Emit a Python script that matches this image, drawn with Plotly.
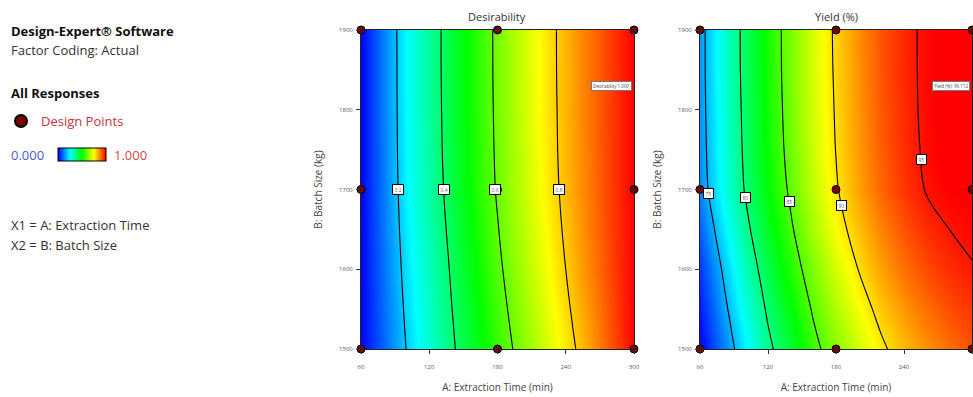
import numpy as np
import plotly.graph_objects as go

# ---- desirability grid ----
des_time = [60, 100, 140, 180, 220, 260, 300]            # A: Extraction Time (min)
des_batch = [1500, 1600, 1700, 1800, 1900]               # B: Batch Size (kg)
desirability = [
    [0.000, 0.202, 0.388, 0.551, 0.697, 0.840, 1.000],
    [0.000, 0.226, 0.411, 0.583, 0.731, 0.869, 1.000],
    [0.000, 0.245, 0.435, 0.608, 0.755, 0.882, 1.000],
    [0.000, 0.252, 0.444, 0.616, 0.762, 0.885, 1.000],
    [0.000, 0.254, 0.446, 0.618, 0.764, 0.886, 1.000],
]

# ---- yield (%) grid ----
yield_time = [60, 80, 100, 120, 140, 160, 180, 200, 220, 240, 260, 280, 300]
yield_batch = [1500, 1550, 1600, 1650, 1700, 1750, 1800, 1850, 1900]
yield_pct = [
    [70.39, 73.46, 76.38, 79.44, 81.81, 84.35, 86.31, 88.15, 89.66, 90.90, 91.95, 92.80, 93.50],
    [71.13, 74.31, 77.37, 80.37, 82.84, 85.25, 87.28, 89.10, 90.59, 91.83, 92.84, 93.62, 94.20],
    [71.87, 75.16, 78.35, 81.29, 83.87, 86.15, 88.25, 90.05, 91.52, 92.76, 93.72, 94.44, 94.90],
    [72.88, 76.20, 79.37, 82.20, 84.70, 87.10, 89.24, 90.83, 92.30, 93.50, 94.45, 95.00, 95.33],
    [73.83, 77.10, 80.17, 82.89, 85.38, 87.70, 89.81, 91.55, 93.00, 94.20, 95.10, 95.50, 95.70],
    [74.06, 77.35, 80.43, 83.22, 85.74, 88.01, 90.05, 91.76, 93.22, 94.39, 95.25, 95.71, 95.97],
    [74.17, 77.48, 80.56, 83.38, 85.91, 88.17, 90.17, 91.87, 93.33, 94.48, 95.32, 95.82, 96.10],
    [74.23, 77.59, 80.68, 83.50, 86.02, 88.28, 90.27, 91.97, 93.42, 94.52, 95.34, 95.84, 96.12],
    [74.24, 77.61, 80.70, 83.52, 86.04, 88.30, 90.33, 92.03, 93.43, 94.53, 95.34, 95.84, 96.08],
]

# design points (3x3 factorial)
design_time = [60, 180, 300, 60, 180, 300, 60, 180, 300]
design_batch = [1500, 1500, 1500, 1700, 1700, 1700, 1900, 1900, 1900]

des_levels = [0.2, 0.4, 0.6, 0.8]
yield_levels = [75, 80, 85, 90, 95]

x_ticks = [60, 120, 180, 240, 300]
y_ticks = [1500, 1600, 1700, 1800, 1900]

# ---- layout helpers ----
W, H = 973, 397
def px(x):
    return x / W
def py(y):
    return 1 - y / H

COLORSCALE = [[0.0, "rgb(0,0,255)"], [0.25, "rgb(0,255,255)"], [0.5, "rgb(0,255,0)"],
              [0.75, "rgb(255,255,0)"], [1.0, "rgb(255,0,0)"]]
FONT = "Open Sans"


def row_at(xs, ys, z, b):
    z = np.asarray(z, dtype=float)
    return np.array([np.interp(b, ys, z[:, j]) for j in range(len(xs))])


def crossing(xs, ys, z, level, b):
    return float(np.interp(level, row_at(xs, ys, z, b), xs))


def value_at(xs, ys, z, a, b):
    return float(np.interp(a, xs, row_at(xs, ys, z, b)))


fig = go.Figure()

fig.add_trace(go.Contour(
    x=des_time, y=des_batch, z=desirability,
    colorscale=COLORSCALE, zmin=0, zmax=1, zauto=False,
    contours=dict(coloring="heatmap", start=0.2, end=0.8, size=0.2, showlines=True),
    line=dict(color="black", width=1.1, smoothing=1.3),
    xaxis="x", yaxis="y", showscale=False, hoverinfo="skip",
))

fig.add_trace(go.Contour(
    x=yield_time, y=yield_batch, z=yield_pct,
    colorscale=COLORSCALE, zmin=70.5, zmax=95.5, zauto=False,
    contours=dict(coloring="heatmap", start=75, end=95, size=5, showlines=True),
    line=dict(color="black", width=1.1, smoothing=1.0),
    xaxis="x2", yaxis="y2", showscale=False, hoverinfo="skip",
))

# colour key for the response scale (0.000 .. 1.000)
fig.add_trace(go.Scatter(
    x=[None], y=[None], mode="markers", showlegend=False, hoverinfo="skip",
    marker=dict(color=[0.0], cmin=0, cmax=1, colorscale=COLORSCALE, showscale=True,
                colorbar=dict(orientation="h", x=px(58), xanchor="left", y=py(155),
                              yanchor="middle", len=48, lenmode="pixels", thickness=13,
                              xpad=0, ypad=0, outlinecolor="black", outlinewidth=1,
                              showticklabels=False, ticks="")),
    xaxis="x", yaxis="y",
))

point_style = dict(size=8, color="#7a0000", line=dict(color="black", width=1))
fig.add_trace(go.Scatter(x=design_time, y=design_batch, mode="markers",
                         marker=point_style, name="Design Points", showlegend=True,
                         cliponaxis=False, xaxis="x", yaxis="y"))
fig.add_trace(go.Scatter(x=design_time, y=design_batch, mode="markers",
                         marker=point_style, name="Design Points", showlegend=False,
                         cliponaxis=False, xaxis="x2", yaxis="y2"))

annotations = []

# contour labels
label_box = dict(showarrow=False, font=dict(size=5, color="#666", family=FONT),
                 bgcolor="white", bordercolor="black", borderwidth=1, borderpad=1.5)
for lv in des_levels:
    annotations.append(dict(x=crossing(des_time, des_batch, desirability, lv, 1700), y=1700,
                            xref="x", yref="y", text=f"{lv:.1f}", **label_box))
yield_label_batch = [1695, 1690, 1685, 1680, 1737]
for lv, b in zip(yield_levels, yield_label_batch):
    annotations.append(dict(x=crossing(yield_time, yield_batch, yield_pct, lv, b), y=b,
                            xref="x2", yref="y2", text=f"{lv:g}", **label_box))

# optimum flags
flag_time, flag_batch = 300, 1830
flag_des = value_at(des_time, des_batch, desirability, flag_time, flag_batch)
flag_yield = value_at(yield_time, yield_batch, yield_pct, flag_time, flag_batch)
flag_box = dict(showarrow=False, xanchor="right", xshift=-2,
                font=dict(size=4.5, color="#444", family=FONT),
                bgcolor="white", bordercolor="#777", borderwidth=1, borderpad=1)
annotations.append(dict(x=flag_time, y=flag_batch, xref="x", yref="y",
                        text=f"Desirability {flag_des:.3f}", **flag_box))
annotations.append(dict(x=flag_time, y=flag_batch, xref="x2", yref="y2",
                        text=f"Yield (%): {flag_yield:.3f}", **flag_box))

# panel titles
for label, xc in [("Desirability", 497), ("Yield (%)", 836)]:
    annotations.append(dict(x=px(xc), y=py(16), xref="paper", yref="paper", text=label,
                            xanchor="center", yanchor="middle", showarrow=False,
                            font=dict(size=11, color="#333", family=FONT)))

# info panel on the left
info = [
    ("<b>Design-Expert® Software</b>", 31, "#111", 13, 9),
    ("Factor Coding: Actual", 50, "#333", 13, 9),
    ("<b>All Responses</b>", 93, "#111", 13, 9),
    ("0.000", 155, "#4a5ad0", 13, 9),
    ("1.000", 155, "#d04a4a", 13, 112),
    ("X1 = A: Extraction Time", 225, "#333", 13, 9),
    ("X2 = B: Batch Size", 245, "#333", 13, 9),
]
for text, yc, col, size, xl in info:
    annotations.append(dict(x=px(xl), y=py(yc), xref="paper", yref="paper", text=text,
                            xanchor="left", yanchor="middle", showarrow=False,
                            font=dict(size=size, color=col, family=FONT)))

axis_common = dict(showgrid=False, zeroline=False, showline=True, linecolor="#222",
                   linewidth=1, mirror=True, ticks="outside", ticklen=4, tickcolor="#333",
                   tickfont=dict(size=6, color="#555", family=FONT))
x_common = dict(axis_common, range=[60, 300], tickvals=x_ticks, ticklabelstandoff=8,
                title=dict(text="A: Extraction Time (min)", standoff=13,
                           font=dict(size=10, color="#444", family=FONT)))
y_common = dict(axis_common, range=[1500, 1900], tickvals=y_ticks, ticklabelstandoff=2,
                title=dict(text="B: Batch Size (kg)", standoff=14,
                           font=dict(size=10, color="#444", family=FONT)))

y_dom = [py(349), py(30)]
fig.update_layout(
    width=W, height=H,
    margin=dict(l=0, r=0, t=0, b=0, autoexpand=False),
    paper_bgcolor="white", plot_bgcolor="white",
    xaxis=dict(x_common, domain=[px(361), px(634)], anchor="y"),
    yaxis=dict(y_common, domain=y_dom, anchor="x"),
    xaxis2=dict(x_common, domain=[px(700), px(972)], anchor="y2"),
    yaxis2=dict(y_common, domain=y_dom, anchor="x2"),
    legend=dict(x=px(1), y=py(121), xanchor="left", yanchor="middle",
                bgcolor="rgba(0,0,0,0)", itemsizing="constant",
                font=dict(size=13, color="#c8323c", family=FONT)),
    annotations=annotations,
)

fig.write_html("out.html")
